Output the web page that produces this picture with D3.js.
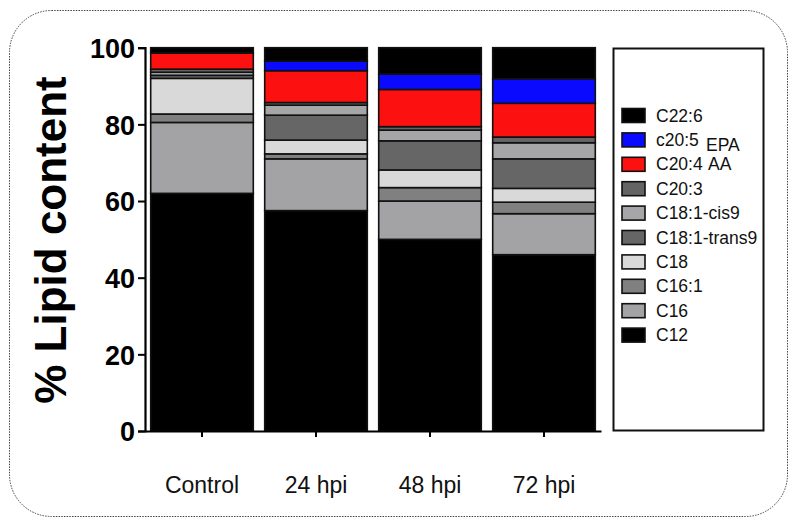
<!DOCTYPE html>
<html>
<head>
<meta charset="utf-8">
<script src="https://cdn.jsdelivr.net/npm/d3@7"></script>
<style>
  body { margin: 0; background: #fff; }
  text { font-family: "Liberation Sans", Arial, sans-serif; }
</style>
</head>
<body>
<div id="chart"></div>
<script>
// data, bottom of the stack first
var groups = ["Control", "24 hpi", "48 hpi", "72 hpi"];
var acids  = ["C12", "C16", "C16:1", "C18", "C18:1-trans9", "C18:1-cis9", "C20:3", "C20:4", "C20:5", "C22:6"];
var C12        = [62.0, 57.5, 50.0, 46.0];
var C16        = [18.5, 13.5, 10.0, 10.7];
var C16_1      = [ 2.2,  1.3,  3.5,  3.0];
var C18        = [ 9.3,  3.6,  4.6,  3.6];
var C18_1trans = [ 0.8,  6.5,  7.6,  7.7];
var C18_1cis   = [ 0.8,  2.6,  2.8,  4.2];
var C20_3      = [ 0.8,  0.7,  0.9,  1.5];
var C20_4      = [ 4.2,  8.3,  9.7,  8.8];
var C20_5      = [ 0.0,  2.5,  4.0,  6.4];
var C22_6      = [ 1.4,  3.5,  6.9,  8.1];
var yTicks = [0, 20, 40, 60, 80, 100];

// legend, top to bottom
var legendNames = ["C22:6", "c20:5", "C20:4", "C20:3", "C18:1-cis9", "C18:1-trans9", "C18", "C16:1", "C16", "C12"];
var legendExtra = { "c20:5": "EPA", "C20:4": "AA" };

var series = [C12, C16, C16_1, C18, C18_1trans, C18_1cis, C20_3, C20_4, C20_5, C22_6];
var rows = groups.map(function(g, i) {
    var r = { group: g };
    acids.forEach(function(a, k) { r[a] = series[k][i]; });
    return r;
});

var colors = {
    "C12": "#000000", "C16": "#a3a3a6", "C16:1": "#808080", "C18": "#d9d9d9",
    "C18:1-trans9": "#666666", "C18:1-cis9": "#a6a6a9", "C20:3": "#646464",
    "C20:4": "#fc1010", "C20:5": "#0a0aff", "C22:6": "#000000"
};

var W = 797, H = 527;
var svg = d3.select("#chart").append("svg").attr("width", W).attr("height", H);

// dotted rounded frame
svg.append("rect")
    .attr("x", 9.5).attr("y", 10.5).attr("width", 778).attr("height", 506)
    .attr("rx", 42).attr("ry", 42)
    .attr("fill", "none").attr("stroke", "#444").attr("stroke-width", 1)
    .attr("stroke-dasharray", "1.5,1.2");

var x = d3.scaleBand().domain(groups).range([145, 601]).paddingInner(0.1).paddingOuter(0.05);
var y = d3.scaleLinear().domain([0, 100]).range([431, 47.7]);

var stacked = d3.stack().keys(acids)(rows);

svg.append("g").selectAll("g")
    .data(stacked)
    .enter().append("g")
    .attr("fill", function(d) { return colors[d.key]; })
    .selectAll("rect")
    .data(function(d) { return d; })
    .enter().append("rect")
    .attr("x", function(d) { return x(d.data.group); })
    .attr("width", x.bandwidth())
    .attr("y", function(d) { return y(d[1]); })
    .attr("height", function(d) { return Math.max(0, y(d[0]) - y(d[1])); })
    .attr("stroke", "#111").attr("stroke-width", 1.6);

// axes
var yAxis = svg.append("g").attr("transform", "translate(145,0)")
    .call(d3.axisLeft(y).tickValues(yTicks).tickSize(7).tickPadding(3));
yAxis.select(".domain").attr("stroke-width", 2.2);
yAxis.selectAll(".tick line").attr("stroke-width", 2);
yAxis.selectAll(".tick text")
    .attr("font-family", "Liberation Sans, Arial, sans-serif")
    .attr("font-size", 27).attr("font-weight", "bold").attr("fill", "#000")
    .attr("dy", "0.36em");

var xAxis = svg.append("g").attr("transform", "translate(0,431)")
    .call(d3.axisBottom(x).tickSize(6).tickSizeOuter(0).tickPadding(40));
xAxis.select(".domain").attr("stroke-width", 2.2);
xAxis.selectAll(".tick line").attr("stroke-width", 2);
xAxis.selectAll(".tick text")
    .attr("font-family", "Liberation Sans, Arial, sans-serif")
    .attr("font-size", 23).attr("fill", "#111");

// y title
svg.append("text")
    .attr("transform", "translate(66,240) rotate(-90)")
    .attr("text-anchor", "middle")
    .attr("font-size", 44).attr("font-weight", "bold")
    .text("% Lipid content");

// legend
var lg = svg.append("g");
lg.append("rect")
    .attr("x", 613.5).attr("y", 48.5).attr("width", 150).attr("height", 382)
    .attr("fill", "#fff").attr("stroke", "#111").attr("stroke-width", 2);

var keyOf = { "c20:5": "C20:5" };
var item = lg.selectAll("g.item")
    .data(legendNames)
    .enter().append("g")
    .attr("class", "item")
    .attr("transform", function(d, i) { return "translate(622," + (115.5 + i * 24.4) + ")"; });

item.append("rect")
    .attr("x", 0).attr("y", -7).attr("width", 23).attr("height", 14)
    .attr("fill", function(d) { return colors[keyOf[d] || d]; })
    .attr("stroke", "#111").attr("stroke-width", 1.6);

item.append("text")
    .attr("x", 34).attr("y", 6)
    .attr("font-size", 17.5).attr("fill", "#111")
    .text(function(d) { return d; });

item.filter(function(d) { return d === "c20:5"; }).append("text")
    .attr("x", 84).attr("y", 11)
    .attr("font-size", 17.5).attr("fill", "#111")
    .text(function(d) { return legendExtra[d]; });

item.filter(function(d) { return d === "C20:4"; }).append("text")
    .attr("x", 86).attr("y", 6)
    .attr("font-size", 17.5).attr("fill", "#111")
    .text(function(d) { return legendExtra[d]; });
</script>
</body>
</html>
